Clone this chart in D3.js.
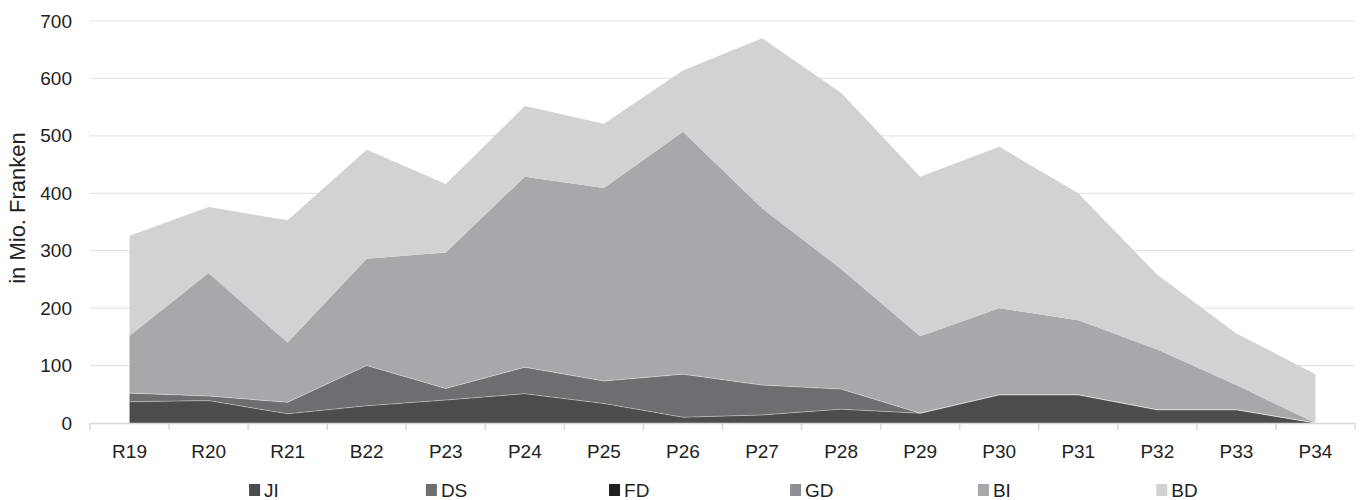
<!DOCTYPE html>
<html>
<head>
<meta charset="utf-8">
<script src="https://cdn.jsdelivr.net/npm/d3@7"></script>
<style>
  html, body { margin: 0; padding: 0; background: #fff; }
  svg { display: block; font-family: "Liberation Sans", Arial, Helvetica, sans-serif; }
</style>
</head>
<body>
<svg id="chart" width="1361" height="500"></svg>
<script>
const categories = ["R19","R20","R21","B22","P23","P24","P25","P26","P27","P28","P29","P30","P31","P32","P33","P34"];
const seriesNames = ["JI","DS","FD","GD","BI","BD"];
const JI = [37, 39, 16, 30, 40, 51, 34, 10, 14, 24, 17, 49, 49, 23, 23, 0];
const DS = [15, 8, 20, 70, 20, 46, 39, 75, 52, 35, 0, 0, 0, 0, 0, 0];
const FD = [0, 0, 0, 0, 0, 0, 0, 0, 0, 0, 0, 0, 0, 0, 0, 0];
const GD = [0, 0, 0, 0, 0, 0, 0, 0, 0, 0, 0, 0, 0, 0, 0, 0];
const BI = [100, 214, 104, 186, 237, 332, 336, 422, 308, 209, 134, 151, 130, 105, 43, 0];
const BD = [174, 115, 213, 190, 119, 123, 112, 107, 296, 307, 278, 281, 221, 130, 90, 85];
const yTicks = [0, 100, 200, 300, 400, 500, 600, 700];
const yTitle = "in Mio. Franken";

const colors = { JI: "#4b4c4e", DS: "#6d6e71", FD: "#231f20", GD: "#8e8f92", BI: "#a7a8ab", BD: "#d1d2d4" };
const seriesData = { JI, DS, FD, GD, BI, BD };

const rows = categories.map((c, i) => {
  const r = { cat: c };
  seriesNames.forEach(s => r[s] = seriesData[s][i]);
  return r;
});

const svg = d3.select("#chart");
const mLeft = 90, mRight = 1355, mTop = 21, mBottom = 423;

const x = d3.scaleBand().domain(categories).range([mLeft, mRight]).padding(0);
const y = d3.scaleLinear().domain([0, 700]).range([mBottom, mTop]);
const cx = c => x(c) + x.bandwidth() / 2;

// gridlines
svg.append("g").selectAll("line").data(yTicks.filter(t => t > 0)).join("line")
  .attr("x1", mLeft).attr("x2", mRight)
  .attr("y1", d => y(d)).attr("y2", d => y(d))
  .attr("stroke", "#e5e5e6").attr("stroke-width", 1.2);

// stacked areas
const stack = d3.stack().keys(seriesNames);
const layers = stack(rows);
const area = d3.area()
  .x(d => cx(d.data.cat))
  .y0(d => y(d[0]))
  .y1(d => y(d[1]));
const line = d3.line().x(d => cx(d.data.cat)).y(d => y(d[1]));

svg.append("g").selectAll("path").data(layers).join("path")
  .attr("d", area)
  .attr("fill", d => colors[d.key]);

svg.append("g").selectAll("path").data(layers.slice(0, 2)).join("path")
  .attr("d", line)
  .attr("fill", "none")
  .attr("stroke", "rgba(255,255,255,0.35)")
  .attr("stroke-width", 1);

// x axis
const xAxis = svg.append("g").attr("transform", `translate(0,${mBottom})`)
  .call(d3.axisBottom(x).tickSize(0).tickPadding(0));
xAxis.select(".domain").attr("stroke", "#d9d9da").attr("stroke-width", 1.5);
xAxis.selectAll(".tick text").remove();
const bounds = categories.map(c => x(c)).concat([mRight]);
xAxis.selectAll("line.bt").data(bounds).join("line").attr("class", "bt")
  .attr("x1", d => d).attr("x2", d => d).attr("y1", 0).attr("y2", 7)
  .attr("stroke", "#d9d9da").attr("stroke-width", 1.5);
svg.append("g").selectAll("text").data(categories).join("text")
  .attr("x", d => cx(d)).attr("y", 458)
  .attr("text-anchor", "middle")
  .attr("font-size", 19).attr("fill", "#222")
  .text(d => d);

// y axis labels
const yAxis = svg.append("g").attr("transform", `translate(${mLeft},0)`)
  .call(d3.axisLeft(y).tickValues(yTicks).tickSize(0).tickPadding(18));
yAxis.select(".domain").remove();
yAxis.selectAll(".tick text").attr("font-size", 19).attr("fill", "#222")
  .attr("font-family", "\"Liberation Sans\", Arial, sans-serif");

// y title
svg.append("text")
  .attr("transform", "translate(25,208) rotate(-90)")
  .attr("text-anchor", "middle")
  .attr("font-size", 22).attr("fill", "#222")
  .text(yTitle);

// legend
const lx = d3.scalePoint().domain(seriesNames).range([264, 1177]);
const lg = svg.append("g").selectAll("g").data(seriesNames).join("g");
lg.each(function(s) {
  const g = d3.select(this);
  const t = g.append("text").attr("y", 497).attr("font-size", 19).attr("fill", "#222").text(s);
  const w = t.node().getComputedTextLength();
  const total = 11 + 4 + w;
  const x0 = lx(s) - total / 2;
  g.append("rect").attr("x", x0).attr("y", 484).attr("width", 11).attr("height", 12).attr("fill", colors[s]);
  t.attr("x", x0 + 15);
});
</script>
</body>
</html>
